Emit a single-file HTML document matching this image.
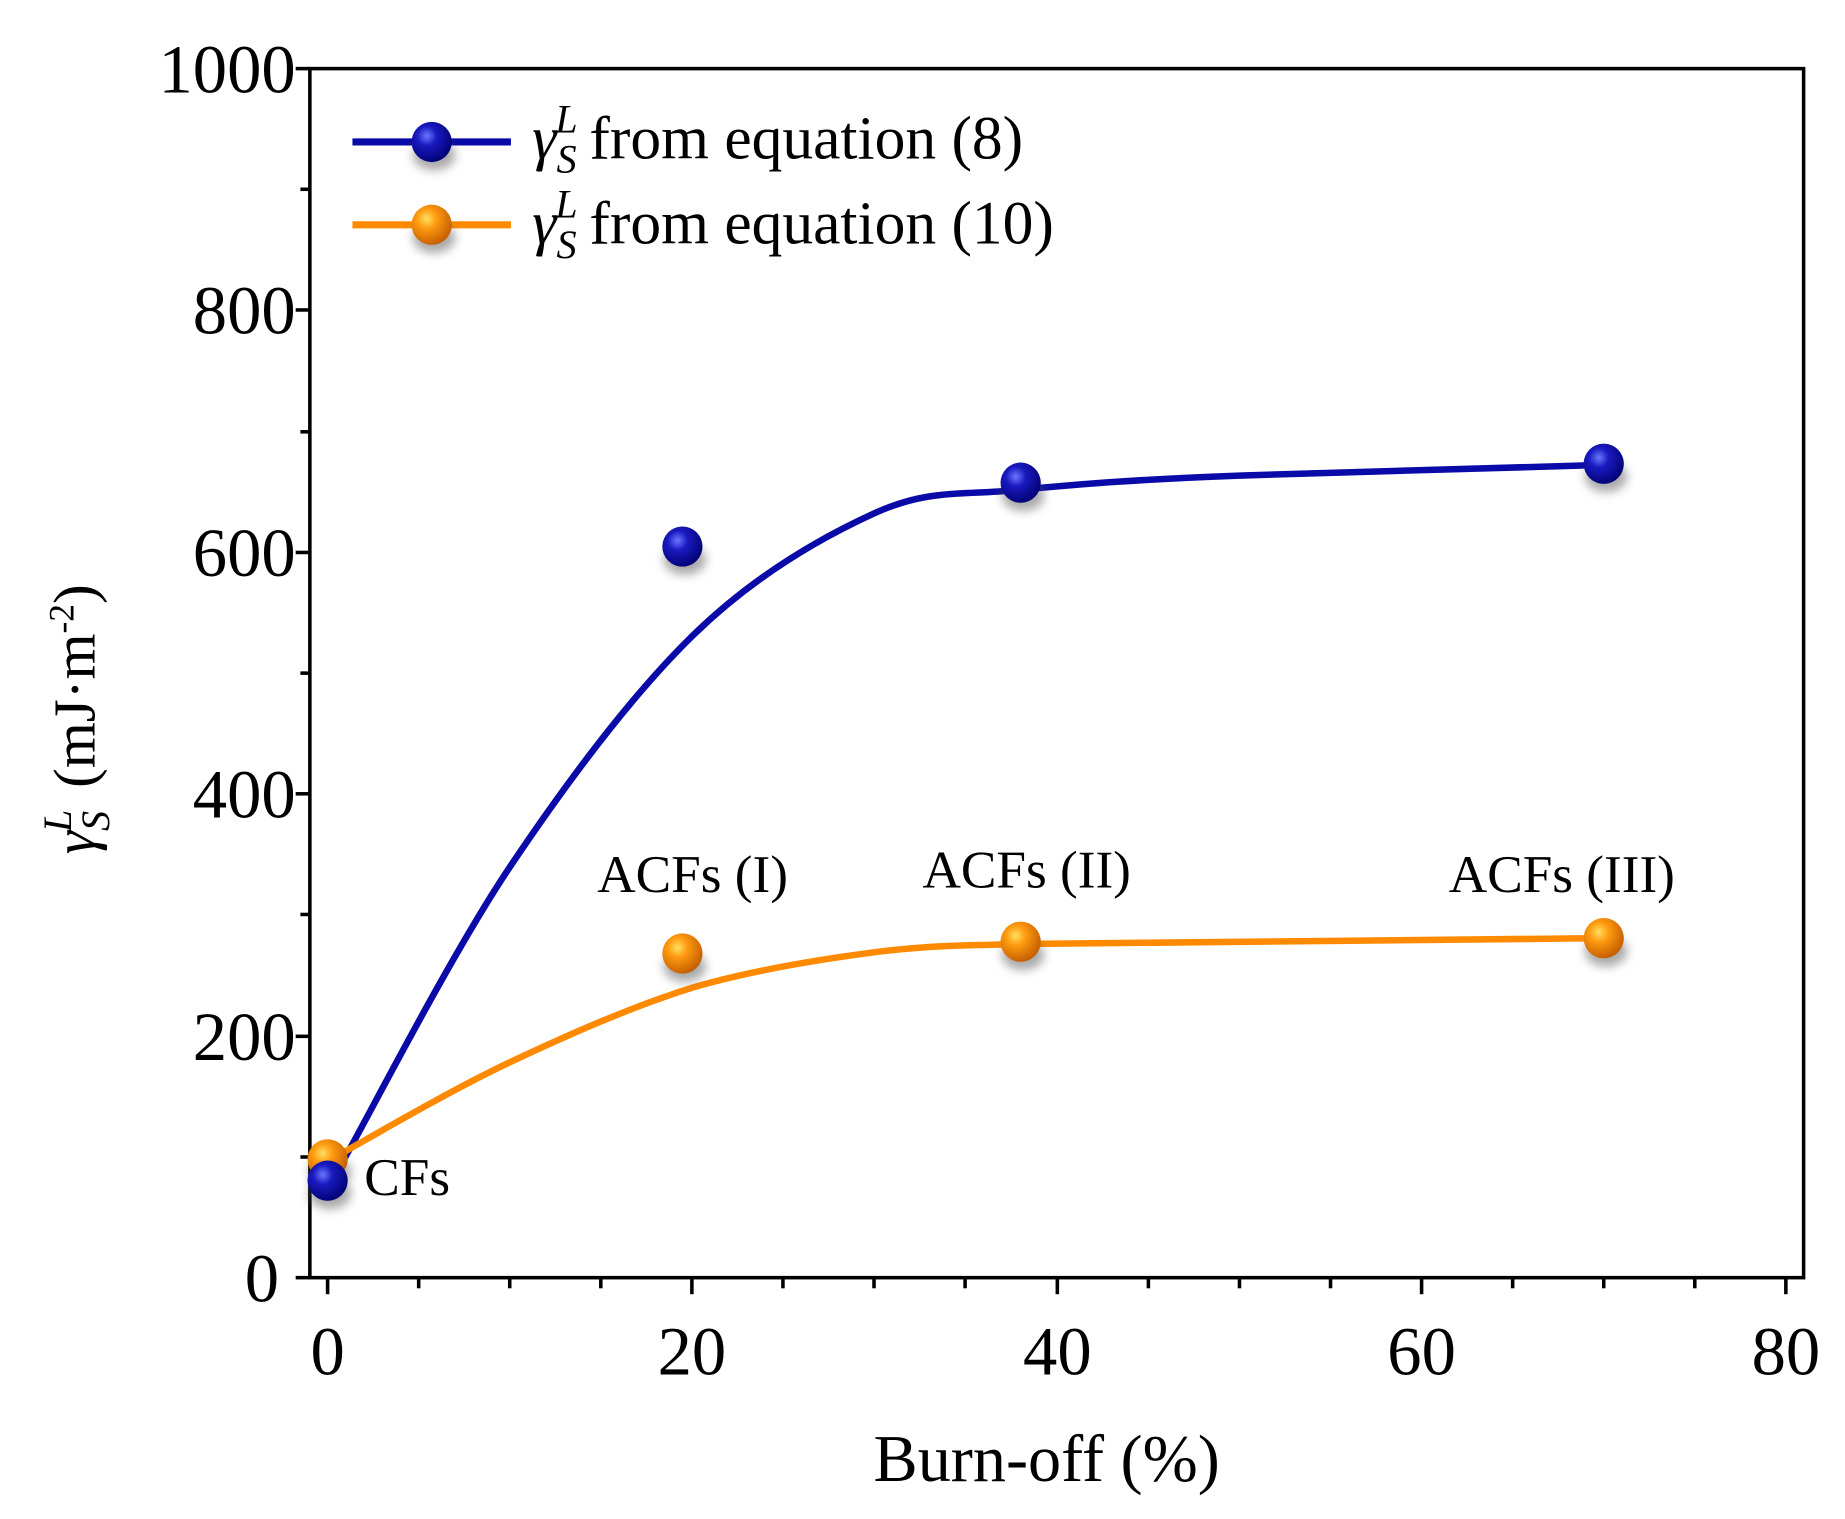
<!DOCTYPE html>
<html><head><meta charset="utf-8"><style>
html,body{margin:0;padding:0;background:#fff;width:1845px;height:1519px;overflow:hidden}
svg{display:block}
text{font-family:"Liberation Serif",serif;fill:#000}
</style></head><body>
<svg width="1845" height="1519" viewBox="0 0 1560 1284" preserveAspectRatio="none" xmlns="http://www.w3.org/2000/svg">
<defs>
<radialGradient id="gb" cx="0.38" cy="0.35" r="0.7">
<stop offset="0" stop-color="#6a78ff"/><stop offset="0.35" stop-color="#1a1ac0"/><stop offset="1" stop-color="#000070"/></radialGradient>
<radialGradient id="go" cx="0.38" cy="0.35" r="0.7">
<stop offset="0" stop-color="#ffe060"/><stop offset="0.35" stop-color="#ff9a10"/><stop offset="1" stop-color="#c05a00"/></radialGradient>
<filter id="sh" x="-60%" y="-60%" width="220%" height="220%"><feGaussianBlur stdDeviation="4"/></filter>
<g id="mb"><ellipse cx="2" cy="11" rx="18" ry="13" fill="#555" opacity="0.5" filter="url(#sh)"/><circle r="17" fill="url(#gb)"/></g>
<g id="mo"><ellipse cx="2" cy="11" rx="18" ry="13" fill="#555" opacity="0.5" filter="url(#sh)"/><circle r="17" fill="url(#go)"/></g>
</defs>
<rect x="262" y="58" width="1263" height="1022" fill="none" stroke="#000" stroke-width="3"/>
<g stroke="#000" stroke-width="3">
<line x1="250" y1="58" x2="262" y2="58"/><line x1="254" y1="160" x2="262" y2="160"/>
<line x1="250" y1="262" x2="262" y2="262"/><line x1="254" y1="365" x2="262" y2="365"/>
<line x1="250" y1="467" x2="262" y2="467"/><line x1="254" y1="569" x2="262" y2="569"/>
<line x1="250" y1="671" x2="262" y2="671"/><line x1="254" y1="773" x2="262" y2="773"/>
<line x1="250" y1="876" x2="262" y2="876"/><line x1="254" y1="978" x2="262" y2="978"/>
<line x1="250" y1="1080" x2="262" y2="1080"/>
</g>
<g stroke="#000" stroke-width="3">
<line x1="277" y1="1080" x2="277" y2="1094"/><line x1="354" y1="1080" x2="354" y2="1089"/>
<line x1="431" y1="1080" x2="431" y2="1089"/><line x1="508" y1="1080" x2="508" y2="1089"/>
<line x1="585" y1="1080" x2="585" y2="1094"/><line x1="662" y1="1080" x2="662" y2="1089"/>
<line x1="739" y1="1080" x2="739" y2="1089"/><line x1="816" y1="1080" x2="816" y2="1089"/>
<line x1="894" y1="1080" x2="894" y2="1094"/><line x1="971" y1="1080" x2="971" y2="1089"/>
<line x1="1048" y1="1080" x2="1048" y2="1089"/><line x1="1125" y1="1080" x2="1125" y2="1089"/>
<line x1="1202" y1="1080" x2="1202" y2="1094"/><line x1="1279" y1="1080" x2="1279" y2="1089"/>
<line x1="1356" y1="1080" x2="1356" y2="1089"/><line x1="1433" y1="1080" x2="1433" y2="1089"/>
<line x1="1510" y1="1080" x2="1510" y2="1094"/>
</g>
<g font-size="58" text-anchor="end">
<text x="250" y="78">1000</text><text x="250" y="282">800</text><text x="250" y="487">600</text>
<text x="250" y="691">400</text><text x="250" y="896">200</text><text x="236" y="1100">0</text>
</g>
<g font-size="58" text-anchor="middle">
<text x="277" y="1162">0</text><text x="585" y="1162">20</text><text x="894" y="1162">40</text>
<text x="1202" y="1162">60</text><text x="1510" y="1162">80</text>
</g>
<text x="885" y="1252" font-size="56" text-anchor="middle">Burn-off (%)</text>
<g transform="translate(80,608) rotate(-90)">
<text x="0" y="0" font-size="50" text-anchor="middle"><tspan font-style="italic">γ</tspan><tspan font-style="italic" font-size="34" dy="12">S</tspan><tspan font-style="italic" font-size="34" dx="-18" dy="-32">L</tspan><tspan dx="6" dy="20"> (mJ·m</tspan><tspan font-size="30" dy="-18">-2</tspan><tspan dy="18">)</tspan></text>
</g>
<path d="M292,978 C315,937 382,806 431,733 C480,660 534,588 585,538 C636,488 693,455 739,434 C785,413 812,419 863,414 C915,409 966,405 1048,402 C1130,399 1305,395 1356,393" fill="none" stroke="#0a0aa8" stroke-width="5.5"/>
<path d="M280,980 C305,966 380,922 431,898 C482,874 534,851 585,835 C636,820 693,811 739,805 C785,799 820,799 863,798 C945,797 1275,794 1356,793" fill="none" stroke="#ff8a00" stroke-width="5.5"/>
<use href="#mo" x="277" y="980"/>
<use href="#mb" x="277" y="998"/>
<use href="#mb" x="577" y="462"/><use href="#mb" x="863" y="408"/><use href="#mb" x="1356" y="392"/>
<use href="#mo" x="577" y="806"/><use href="#mo" x="863" y="796"/><use href="#mo" x="1356" y="793"/>
<g font-size="45">
<text x="308" y="1010">CFs</text>
<text x="505" y="754">ACFs (I)</text>
<text x="780" y="750">ACFs (II)</text>
<text x="1225" y="754">ACFs (III)</text>
</g>
<line x1="298" y1="120" x2="432" y2="120" stroke="#0a0aa8" stroke-width="6"/>
<use href="#mb" x="365" y="120"/>
<line x1="298" y1="190" x2="432" y2="190" stroke="#ff8a00" stroke-width="6"/>
<use href="#mo" x="365" y="190"/>
<g font-size="52">
<text x="450" y="134"><tspan font-style="italic">γ</tspan><tspan font-style="italic" font-size="34" dy="12">S</tspan><tspan font-style="italic" font-size="34" dx="-18" dy="-34">L</tspan><tspan dx="10" dy="22">from equation (8)</tspan></text>
<text x="450" y="206"><tspan font-style="italic">γ</tspan><tspan font-style="italic" font-size="34" dy="12">S</tspan><tspan font-style="italic" font-size="34" dx="-18" dy="-34">L</tspan><tspan dx="10" dy="22">from equation (10)</tspan></text>
</g>
</svg>
</body></html>
